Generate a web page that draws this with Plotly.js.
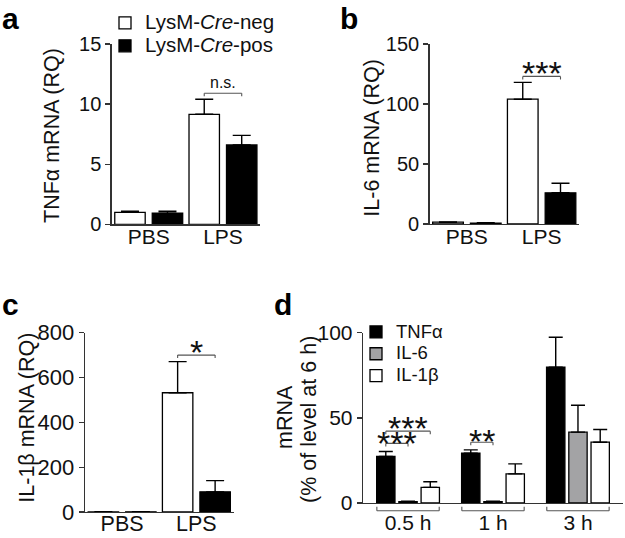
<!DOCTYPE html>
<html><head><meta charset="utf-8">
<script src="https://cdn.plot.ly/plotly-3.0.1.min.js"></script>
<style>html,body{margin:0;padding:0;background:#fff}#chart{width:625px;height:538px}</style>
</head><body><div id="chart"></div>
<script>
// ---------------- data ----------------
const groupsAC = ['PBS', 'LPS'];
const seriesAC = ['LysM-<i>Cre</i>-neg', 'LysM-<i>Cre</i>-pos'];
const tnfNeg = [1.0, 9.15];   const tnfNegErr = [0.1, 1.25];
const tnfPos = [0.92, 6.6];   const tnfPosErr = [0.16, 0.8];
const il6Neg = [1.5, 104];    const il6NegErr = [0.3, 14];
const il6Pos = [0.8, 26];     const il6PosErr = [0.2, 8];
const il1bNeg = [1, 532];     const il1bNegErr = [0.5, 139];
const il1bPos = [1, 90];      const il1bPosErr = [0.5, 50];

const timeLabels = ['0.5 h', '1 h', '3 h'];
const seriesD = ['TNFα', 'IL-6', 'IL-1β'];
const dTnf = [27.3, 29.2, 79.8];  const dTnfErr = [2.9, 2.0, 17.5];
const dIl6 = [0.8, 0.8, 41.6];    const dIl6Err = [0.2, 0.2, 15.8];
const dIl1b = [9.2, 17.1, 35.7];  const dIl1bErr = [3.3, 5.9, 7.5];

const titlesY = ['TNFα mRNA (RQ)', 'IL-6 mRNA (RQ)', 'IL-1β mRNA (RQ)', 'mRNA', '(% of level at 6 h)'];

// significance: group index, series from/to, bracket height (data units), label
const sigA = [{group: 1, from: 0, to: 1, y: 10.9, label: 'n.s.'}];
const sigB = [{group: 1, from: 0, to: 1, y: 123, label: '***'}];
const sigC = [{group: 1, from: 0, to: 1, y: 700, label: '*'}];
const sigD = [
  {group: 0, from: 0, to: 1, y: 35, label: '***'},
  {group: 0, from: 0, to: 2, y: 42.2, label: '***'},
  {group: 1, from: 0, to: 1, y: 35.7, label: '**'}
];

// ---------------- style ----------------
const FONT = 'Liberation Sans, Arial, Helvetica, sans-serif';
const INK = '#111';
const AXC = '#333';
const fillsAC = ['#ffffff', '#000000'];
const fillsD = ['#000000', '#a3a3a5', '#ffffff'];
const BAR_W = 0.41, OFF_AC = 0.2525;      // bar width / centre offset for panels a-c
const BARGAP_D = 0.215, GROUPGAP_D = 0.175;
const SLOT_D = (1 - BARGAP_D) / 3;

function barAC(name, vals, errs, i, ax, showLeg) {
  const off = (i === 0 ? -OFF_AC : OFF_AC) - BAR_W / 2;
  return {
    type: 'bar', name: '<span style="font-size:20.5px">' + name + '</span>', x: groupsAC, y: vals,
    xaxis: 'x' + ax, yaxis: 'y' + ax, width: BAR_W, offset: off,
    marker: {color: fillsAC[i], line: {color: '#000', width: 1.3}},
    error_y: {type: 'data', array: errs, arrayminus: errs.map(() => 0), symmetric: false,
              color: '#000', thickness: 1.4, width: 9},
    showlegend: showLeg, legend: 'legend', hoverinfo: 'skip'
  };
}
function barD(name, vals, errs, i) {
  return {
    type: 'bar', name: '<span style="font-size:18.5px">' + name + '</span>', x: timeLabels, y: vals,
    xaxis: 'x4', yaxis: 'y4',
    marker: {color: fillsD[i], line: {color: '#000', width: 1.3}},
    error_y: {type: 'data', array: errs, arrayminus: errs.map(() => 0), symmetric: false,
              color: '#000', thickness: 1.4, width: 7},
    showlegend: true, legend: 'legend2', hoverinfo: 'skip'
  };
}

const traces = [
  barAC(seriesAC[0], tnfNeg, tnfNegErr, 0, '', true),
  barAC(seriesAC[1], tnfPos, tnfPosErr, 1, '', true),
  barAC(seriesAC[0], il6Neg, il6NegErr, 0, '2', false),
  barAC(seriesAC[1], il6Pos, il6PosErr, 1, '2', false),
  barAC(seriesAC[0], il1bNeg, il1bNegErr, 0, '3', false),
  barAC(seriesAC[1], il1bPos, il1bPosErr, 1, '3', false),
  barD(seriesD[0], dTnf, dTnfErr, 0),
  barD(seriesD[1], dIl6, dIl6Err, 1),
  barD(seriesD[2], dIl1b, dIl1bErr, 2)
];

const W = 625, H = 538;
const px = v => v / W, py = v => 1 - v / H;

function yax(dom, rng, dtick, anchor, fs) {
  return {
    domain: dom, range: rng, dtick: dtick, tick0: 0, anchor: anchor,
    showline: true, linecolor: AXC, linewidth: 1.3, ticks: 'outside', ticklen: 5, tickwidth: 1.3,
    tickcolor: AXC, showgrid: false, zeroline: false, fixedrange: true,
    tickfont: {family: FONT, size: fs, color: INK}
  };
}
function xax(dom, rng, anchor, standoff, fs) {
  return {
    domain: dom, range: rng, type: 'category', anchor: anchor,
    showline: true, linecolor: AXC, linewidth: 1.3, ticks: '', showgrid: false, zeroline: false,
    fixedrange: true, ticklabelstandoff: standoff,
    tickfont: {family: FONT, size: fs, color: INK}
  };
}

const layout = {
  width: W, height: H, margin: {l: 0, r: 0, t: 0, b: 0},
  paper_bgcolor: '#fff', plot_bgcolor: 'rgba(0,0,0,0)',
  font: {family: FONT, color: INK},
  barmode: 'group', bargap: BARGAP_D, bargroupgap: GROUPGAP_D,
  xaxis:  xax([px(111.6), px(260.1)], [-0.5, 1.5], 'y', -7, 21),
  yaxis:  yax([py(224.3), py(44)], [0, 15], 5, 'x', 20),
  xaxis2: xax([px(429.5), px(579)], [-0.5, 1.5], 'y2', -7, 21),
  yaxis2: yax([py(224), py(44)], [0, 150], 50, 'x2', 20),
  xaxis3: xax([px(85), px(233.5)], [-0.5, 1.5], 'y3', -8, 21.5),
  yaxis3: yax([py(512), py(332.7)], [0, 800], 200, 'x3', 22),
  xaxis4: xax([px(363), px(623)], [-0.53, 2.53], 'y4', 0, 21),
  yaxis4: yax([py(503), py(332.7)], [0, 100], 50, 'x4', 21),
  legend: {x: px(105), y: py(6.5), xanchor: 'left', yanchor: 'top', bgcolor: 'rgba(0,0,0,0)',
           font: {family: FONT, size: 15.3, color: INK}, traceorder: 'normal', itemclick: false},
  legend2: {x: px(356), y: py(316), xanchor: 'left', yanchor: 'top', bgcolor: 'rgba(0,0,0,0)',
            font: {family: FONT, size: 14.5, color: INK}, traceorder: 'normal', itemclick: false},
  shapes: [], annotations: []
};

// y-axis titles (rotated)
[[titlesY[0], 52, 136], [titlesY[1], 371.7, 138], [titlesY[2], 26.7, 418],
 [titlesY[3], 285, 417], [titlesY[4], 309, 420]].forEach(([t, x, y]) => {
  layout.annotations.push({xref: 'paper', yref: 'paper', x: px(x), y: py(y), text: t, textangle: -90,
    xanchor: 'center', yanchor: 'middle', showarrow: false,
    font: {family: FONT, size: 21.5, color: INK}});
});

const BR = {color: '#555', width: 1.1};
function addBracket(ax, xa, xb, y, label, isStar, lift) {
  const xr = 'x' + ax, yr = 'y' + ax;
  layout.shapes.push({type: 'line', xref: xr, yref: yr, x0: xa, x1: xb, y0: y, y1: y, line: BR});
  [xa, xb].forEach(xx => layout.shapes.push({type: 'line', xref: xr, yref: yr, x0: xx, x1: xx,
      ysizemode: 'pixel', yanchor: y, y0: 0, y1: -3, line: BR}));
  layout.annotations.push({xref: xr, yref: yr, x: (xa + xb) / 2, y: y, text: label, showarrow: false,
      xanchor: 'center', yanchor: isStar ? 'middle' : 'bottom', yshift: lift,
      font: {family: FONT, size: isStar ? 34 : 16, color: INK}});
}
const liftAC = [0, 3, 3];
[[sigA, ''], [sigB, '2'], [sigC, '3']].forEach(([sig, ax], k) => sig.forEach(s => {
  const off = [-OFF_AC, OFF_AC];
  addBracket(ax, s.group + off[s.from], s.group + off[s.to], s.y, s.label, s.label !== 'n.s.', liftAC[k]);
}));
const liftD = [0, 3, 1];
sigD.forEach((s, k) => addBracket('4', s.group + (s.from - 1) * SLOT_D, s.group + (s.to - 1) * SLOT_D,
  s.y, s.label, true, liftD[k]));

// category brackets under panel d
const GB = {color: '#555', width: 1.1};
const halfSpan = 0.367;
timeLabels.forEach((t, i) => {
  const a = i - halfSpan, b = i + halfSpan, y0 = py(510.7), y1 = py(506.7);
  layout.shapes.push({type: 'line', xref: 'x4', yref: 'paper', x0: a, x1: b, y0: y0, y1: y0, line: GB});
  layout.shapes.push({type: 'line', xref: 'x4', yref: 'paper', x0: a, x1: a, y0: y0, y1: y1, line: GB});
  layout.shapes.push({type: 'line', xref: 'x4', yref: 'paper', x0: b, x1: b, y0: y0, y1: y1, line: GB});
});

// panel letters
[['a', 0, 0], ['b', 338, 0], ['c', 0, 286], ['d', 272, 286]].forEach(([t, x, y]) => {
  layout.annotations.push({xref: 'paper', yref: 'paper', x: px(x), y: py(y), xanchor: 'left',
    yanchor: 'top', text: '<b>' + t + '</b>', showarrow: false,
    font: {family: FONT, size: 30, color: '#000'}});
});

Plotly.newPlot('chart', traces, layout, {staticPlot: true});
</script>
</body></html>
